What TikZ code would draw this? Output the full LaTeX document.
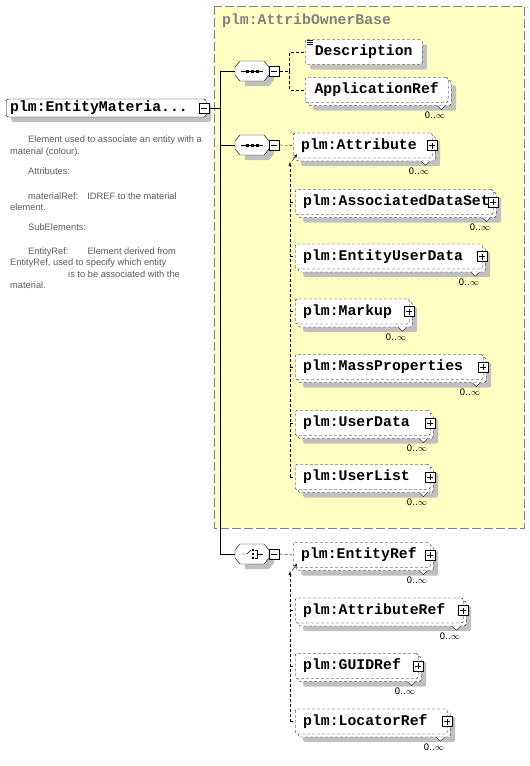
\documentclass[tikz,border=0pt]{standalone}
\usepackage{fontspec}
\usepackage{tikz}
\usetikzlibrary{positioning,arrows.meta,shadows}
\setmainfont{Liberation Sans}
\newfontfamily\xsdmono{Liberation Mono}
\newfontfamily\occfont{DejaVu Sans}
\definecolor{cbase}{HTML}{FFFFC4}
\definecolor{cbaseline}{HTML}{808080}
\definecolor{cshadow}{HTML}{C0C0C0}
\definecolor{cdoc}{HTML}{5A5A5A}

\begin{document}
\begin{tikzpicture}[x=1pt,y=-1pt,
  dline/.style={dash pattern=on 3pt off 2pt},
  shadow5/.style={drop shadow={shadow xshift=5pt,shadow yshift=-5pt,fill=cshadow,opacity=1,draw=none}},
  xsdname/.style={font=\xsdmono\bfseries\fontsize{14.8}{16}\selectfont},
  rootbox/.style={draw, fill=white, rounded corners=2.5pt, shadow5, xsdname, minimum height=18pt,
    inner xsep=4pt, inner ysep=0pt, text width=192pt, align=left, anchor=west},
  comp/.style={minimum width=34pt, minimum height=20pt, inner sep=0pt},
  elem/.style={draw, dline, fill=white, rounded corners=2pt, xsdname, minimum height=25pt,
    inner xsep=8pt, inner ysep=0pt, align=left, anchor=west},
  single/.style={elem, shadow5},
  multi/.style={elem, drop shadow={shadow xshift=8pt,shadow yshift=-8pt,fill=cshadow,opacity=1,draw=none},
    copy shadow={shadow xshift=3pt,shadow yshift=-3pt,fill=white,draw=black,dline}},
  minusbox/.style={draw, solid, fill=white, minimum size=10pt, inner sep=0pt,
    path picture={\draw ([xshift=2pt]path picture bounding box.west) -- ([xshift=-2pt]path picture bounding box.east);}},
  plusbox/.style={draw, solid, fill=white, minimum size=10pt, inner sep=0pt,
    path picture={\draw ([xshift=2pt]path picture bounding box.west) -- ([xshift=-2pt]path picture bounding box.east)
      ([yshift=-2pt]path picture bounding box.north) -- ([yshift=2pt]path picture bounding box.south);}},
  occ/.style={font=\occfont\fontsize{9}{11}\selectfont, inner sep=0pt},
  doc/.style={font=\fontsize{9.3}{11.3}\selectfont, text=cdoc, align=left, inner sep=0pt},
  basebox/.style={draw=cbaseline, fill=cbase, dash pattern=on 9pt off 3pt},
]
\useasboundingbox (0,0) rectangle (530,766);
% ---------- base type frame ----------
\draw[basebox] (214,6) rectangle (524,528);
\node[xsdname, text=cbaseline, anchor=west, inner sep=0pt] (basettl) at (222,21) {plm:AttribOwnerBase};
% ---------- root element ----------
\node[rootbox] (root) at (6,108) {plm:EntityMateria...};
\node[minusbox, xshift=-2pt] (rm) at (root.east) {};
\node[doc, anchor=north west] (rootdoc) at (10,136) {%
  \hspace*{18pt}Element used to associate an entity with a\\
  material (colour).\\[8.7pt]
  \hspace*{18pt}Attributes:\\[13.7pt]
  \hspace*{18pt}materialRef:\hspace{9pt}IDREF to the material\\
  element.\\[8.7pt]
  \hspace*{18pt}SubElements:\\[12.7pt]
  \hspace*{18pt}EntityRef:\hspace{19pt}Element derived from\\
  EntityRef, used to specify which entity\\
  \hspace*{58pt}is to be associated with the\\
  material.};
% ---------- compositors ----------
\node[comp] (s1) at (252,71) {};
\node[comp] (s2) at (252,145) {};
\node[comp] (ch) at (252,554) {};
\foreach \c in {s1,s2,ch}{
  \begin{scope}[shift={(\c.center)}]
    \fill[cshadow] (-7,-5) -- (17,-5) -- (22,1) -- (22,9) -- (17,15) -- (-7,15) -- cycle;
    \filldraw[fill=white] (-12,-10) -- (12,-10) -- (17,-4) -- (17,4) -- (12,10) -- (-12,10) -- (-17,4) -- (-17,-4) -- cycle;
  \end{scope}
}
\foreach \c in {s1,s2}{
  \begin{scope}[shift={(\c.center)}]
    \draw (-11,0) -- (11,0);
    \foreach \dx in {-5,0,5} \fill (\dx-1.5,-1.5) rectangle (\dx+1.5,1.5);
  \end{scope}
}
\begin{scope}[shift={(ch.center)}]
  \draw (-11,0) -- (-5,0) -- (-1,-4);
  \foreach \dy in {-4,0,4} \fill (0,\dy-1) rectangle (2,\dy+1);
  \draw (3,-4) -- (5,-4) -- (5,4) -- (3,4) (5,0) -- (11,0);
\end{scope}
\node[minusbox, right=0pt of s1] (s1m) {};
\node[minusbox, right=0pt of s2] (s2m) {};
\node[minusbox, right=0pt of ch] (chm) {};
\coordinate (jn) at (220,108);
\draw (rm.east) -- (jn);
\draw (s1.west) -| (jn);
\draw (s2.west) -| (jn);
\draw (ch.west) -| (jn);
% ---------- first sequence ----------
\node[single, text width=101pt, align=center] (desc) at (305,52) {Description};
\node[multi, text width=127pt, align=center] (appref) at (305,90) {ApplicationRef};
\foreach \dy in {1,3,5} \draw[line width=0.6pt] ([xshift=2pt]desc.north west) ++(0,\dy) -- ++(6,0);
\draw[dline] (s1m.east) -- ++(10,0) coordinate (s1j) |- (desc.west);
\draw[dline] (s1j) |- (appref.west);
% ---------- second sequence ----------
\node[multi, text width=123pt] (attr) at (293,145.5) {plm:Attribute};
\node[multi, text width=182pt] (assoc) at (295,202) {plm:AssociatedDataSet};
\node[multi, text width=171pt] (eud) at (295,256.5) {plm:EntityUserData};
\node[multi, text width=98pt] (markup) at (295,311.5) {plm:Markup};
\node[multi, text width=172pt] (mass) at (295,367) {plm:MassProperties};
\node[multi, text width=119pt] (udata) at (295,423) {plm:UserData};
\node[multi, text width=119pt] (ulist) at (295,477) {plm:UserList};
\coordinate (s2top) at (290,162);
\draw[dline] (s2m.east) -- (attr.west);
\draw[dline, -{Latex[length=4pt,width=3pt]}] (s2top |- ulist.west) -- (s2top);
\foreach \b in {assoc,eud,markup,mass,udata,ulist} \draw[dline] (s2top |- \b.west) -- (\b.west);
\draw[-{Latex[length=3pt,width=3pt]}] ([xshift=-1pt,yshift=-3pt]attr.south west) -- ([xshift=4pt,yshift=4pt]attr.south west);
% ---------- choice ----------
\node[multi, text width=121pt] (eref) at (293,555) {plm:EntityRef};
\node[multi, text width=152pt] (aref) at (295,610.5) {plm:AttributeRef};
\node[multi, text width=107pt] (gref) at (295,666) {plm:GUIDRef};
\node[multi, text width=136pt] (lref) at (295,721.5) {plm:LocatorRef};
\coordinate (chtop) at (290,571);
\draw[dline] (chm.east) -- (eref.west);
\draw[dline, -{Latex[length=4pt,width=3pt]}] (chtop |- lref.west) -- (chtop);
\foreach \b in {aref,gref,lref} \draw[dline] (chtop |- \b.west) -- (\b.west);
\draw[-{Latex[length=3pt,width=3pt]}] ([xshift=-1pt,yshift=-3pt]eref.south west) -- ([xshift=4pt,yshift=4pt]eref.south west);
% ---------- expand boxes and occurrences ----------
\foreach \b in {attr,assoc,eud,markup,mass,udata,ulist,eref,aref,gref,lref}
  \node[plusbox] (\b-plus) at (\b.east) {};
\foreach \b in {appref,attr,assoc,eud,markup,mass,udata,ulist,eref,aref,gref,lref}{
  \filldraw[fill=white] ([xshift=-11pt,yshift=-3pt]\b.south east) -- ++(4,4) -- ++(4,-4);
  \node[occ, below left=9pt and 3pt of \b.south east] (\b-occ) {0..$\infty$};
}
\end{tikzpicture}
\end{document}
